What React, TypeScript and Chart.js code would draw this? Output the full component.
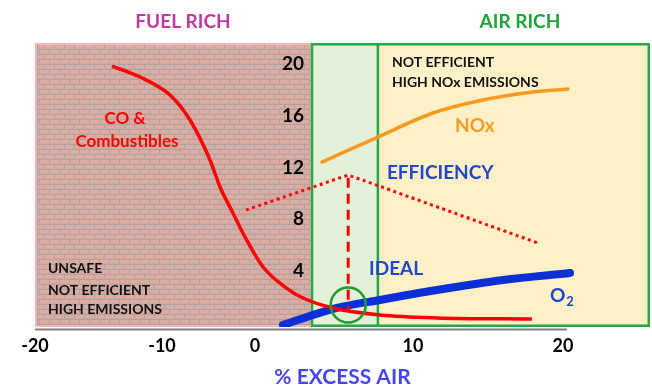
import { useEffect, useRef } from 'react';
import { Chart, registerables, LinearScale } from 'chart.js';

// ---------- data ----------
const X_TICKS = [-20, -10, 0, 10, 20];
const Y_TICKS = [4, 8, 12, 16, 20];

const CO_X = [-13.94, -11.73, -9.14, -6.99, -4.84, -3.76, -2.37, -1.08, 0.51, 1.9, 3.04, 4.94, 7.91, 11.6, 17.93];
const CO_Y = [19.84, 18.99, 17.6, 15.67, 12.58, 10.49, 8.48, 6.63, 4.31, 2.76, 1.91, 1.14, 0.6, 0.37, 0.29];

const NOX_X = [4.24, 7.78, 11.33, 14.67, 18.0, 20.33];
const NOX_Y = [12.42, 14.35, 16.21, 17.21, 17.83, 18.06];

const O2_X = [1.77, 5.19, 7.91, 11.6, 16.0, 20.47];
const O2_Y = [-0.17, 1.14, 1.76, 2.53, 3.3, 3.84];

const EFF_X = [-0.97, 5.9, 18.33];
const EFF_Y = [8.71, 11.42, 6.16];

const IDEAL_X = 5.9;
const IDEAL_LINE_Y = [11.2, 1.0];
const IDEAL_POINT_Y = 1.37;

// zone limits on the % excess air axis: fuel rich | ideal band | air rich
const ZONE_BOUNDS = [-20, 3.61, 7.78, 25.8];

// ---------- axis configuration ----------
const X_MIN = -20;
const X_MAX = 25.8;
const Y_MIN = -0.33;
const Y_MAX = 21.62;
const Y_AXIS_AT = 3.1;
// the reference axis is not evenly spaced: value -> fraction of axis length
const WARP_VALUES = [-20, -10, 0, 10, 20, 25.8];
const WARP_DECIMALS = [0, 0.2065, 0.3577, 0.6146, 0.8585, 1];

const FONT = 'Lato, "Open Sans", sans-serif';

type Note = { text: string; x: number; y: number; color: string; size: number; align: CanvasTextAlign; sub?: string };
const NOTES: Note[] = [
  { text: 'FUEL RICH', x: -7.74, y: 23.24, color: '#c0399c', size: 19, align: 'center' },
  { text: 'AIR RICH', x: 17.13, y: 23.24, color: '#1ea53a', size: 19, align: 'center' },
  { text: 'CO &', x: -12.91, y: 15.82, color: '#ff0000', size: 17, align: 'center' },
  { text: 'Combustibles', x: -12.76, y: 13.97, color: '#ff0000', size: 17, align: 'center' },
  { text: 'UNSAFE', x: -18.98, y: 4.23, color: '#111111', size: 14, align: 'left' },
  { text: 'NOT EFFICIENT', x: -18.98, y: 2.53, color: '#111111', size: 14, align: 'left' },
  { text: 'HIGH EMISSIONS', x: -18.98, y: 0.99, color: '#111111', size: 14, align: 'left' },
  { text: 'NOT EFFICIENT', x: 8.67, y: 20.15, color: '#111111', size: 14, align: 'left' },
  { text: 'HIGH NOx EMISSIONS', x: 8.67, y: 18.53, color: '#111111', size: 14, align: 'left' },
  { text: 'NOx', x: 14.13, y: 15.2, color: '#f79a1e', size: 19, align: 'center' },
  { text: 'EFFICIENCY', x: 8.35, y: 11.57, color: '#2046c9', size: 19, align: 'left' },
  { text: 'IDEAL', x: 7.22, y: 4.15, color: '#2046c9', size: 19, align: 'left' },
  { text: 'O', x: 19.13, y: 2.07, color: '#2046c9', size: 19, align: 'left', sub: '2' },
];

function interp(v: number, xs: number[], ys: number[]) {
  let i = 0;
  if (v >= xs[xs.length - 1]) i = xs.length - 2;
  else if (v > xs[0]) {
    while (v > xs[i + 1]) i++;
  }
  const t = (v - xs[i]) / (xs[i + 1] - xs[i]);
  return ys[i] + t * (ys[i + 1] - ys[i]);
}

class WarpedScale extends LinearScale {
  static id = 'warped';
  getPixelForValue(value: any) {
    if (value === null || value === undefined || isNaN(value)) return NaN;
    return this.getPixelForDecimal(interp(+value, WARP_VALUES, WARP_DECIMALS));
  }
  getValueForPixel(pixel: number) {
    return interp(this.getDecimalForPixel(pixel), WARP_DECIMALS, WARP_VALUES);
  }
}

Chart.register(...registerables, WarpedScale);

const pts = (xs: number[], ys: number[]) => xs.map((x, i) => ({ x, y: ys[i] }));

export default function App() {
  const ref = useRef<HTMLCanvasElement>(null);

  useEffect(() => {
    document.body.style.margin = '0';
    const canvas = ref.current!;
    const tile = document.createElement('canvas');
    tile.width = 10;
    tile.height = 10;
    const t = tile.getContext('2d')!;
    t.fillStyle = '#aba4a4';
    t.fillRect(0, 0, 10, 10);
    t.fillStyle = '#e2ab9f';
    t.fillRect(0, 0, 9, 3);
    t.fillRect(0, 5, 4, 3);
    t.fillRect(5, 5, 5, 3);
    t.fillStyle = '#cda9a4';
    t.fillRect(0, 3, 10, 1);
    t.fillRect(0, 8, 10, 1);
    const pattern = canvas.getContext('2d')!.createPattern(tile, 'repeat')!;

    const zonesPlugin = {
      id: 'zones',
      beforeDraw(chart: any) {
        const { ctx, chartArea } = chart;
        const { top, bottom } = chartArea;
        const xs = chart.scales.x;
        const p = ZONE_BOUNDS.map((v) => xs.getPixelForValue(v));
        const h = bottom - top;
        ctx.save();
        ctx.fillStyle = pattern;
        ctx.fillRect(p[0], top, p[1] - p[0], h);
        ctx.strokeStyle = '#f5b5b5';
        ctx.lineWidth = 2;
        ctx.strokeRect(p[0] + 1, top + 1, p[1] - p[0] - 2, h - 2);
        ctx.strokeStyle = '#a9a4a4';
        ctx.lineWidth = 1;
        ctx.beginPath();
        ctx.moveTo(p[0] + 2.5, top + 2);
        ctx.lineTo(p[0] + 2.5, bottom - 2);
        ctx.stroke();
        ctx.fillStyle = '#e4f1d9';
        ctx.fillRect(p[1], top, p[2] - p[1], h);
        ctx.fillStyle = '#fff0c7';
        ctx.fillRect(p[2], top, p[3] - p[2], h);
        ctx.strokeStyle = '#22a845';
        ctx.lineWidth = 2.5;
        ctx.strokeRect(p[1], top + 1.25, p[3] - p[1] - 1.25, h - 2.5);
        ctx.beginPath();
        ctx.moveTo(p[2], top);
        ctx.lineTo(p[2], bottom);
        ctx.stroke();
        // x axis line from first to last tick
        ctx.strokeStyle = '#808080';
        ctx.lineWidth = 2;
        ctx.beginPath();
        ctx.moveTo(xs.getPixelForValue(X_TICKS[0]), bottom + 2.5);
        ctx.lineTo(xs.getPixelForValue(X_TICKS[X_TICKS.length - 1]) + 4, bottom + 2.5);
        ctx.stroke();
        ctx.restore();
      },
      beforeDatasetsDraw(chart: any) {
        const { ctx } = chart;
        const xs = chart.scales.x;
        const ys = chart.scales.y;
        ctx.save();
        ctx.textBaseline = 'middle';
        NOTES.forEach((n) => {
          const px = xs.getPixelForValue(n.x);
          const py = ys.getPixelForValue(n.y);
          ctx.font = `bold ${n.size}px ${FONT}`;
          ctx.fillStyle = n.color;
          ctx.textAlign = n.align;
          ctx.fillText(n.text, px, py);
          if (n.sub) {
            const w = ctx.measureText(n.text).width;
            ctx.font = `bold ${Math.round(n.size * 0.68)}px ${FONT}`;
            ctx.textAlign = 'left';
            ctx.fillText(n.sub, px + w + 1, py + 6);
          }
        });
        ctx.restore();
      },
    };

    const chart = new Chart(canvas, {
      type: 'line',
      data: {
        datasets: [
          {
            data: [{ x: IDEAL_X, y: IDEAL_POINT_Y }],
            showLine: false,
            pointRadius: 17.5,
            pointHoverRadius: 17.5,
            pointBorderWidth: 2.5,
            pointBorderColor: '#1f9a30',
            pointBackgroundColor: 'rgba(0,0,0,0)',
          },
          {
            data: IDEAL_LINE_Y.map((y) => ({ x: IDEAL_X, y })),
            borderColor: '#ff0000',
            borderWidth: 3,
            borderDash: [10, 6],
            pointRadius: 0,
          },
          {
            data: pts(CO_X, CO_Y),
            borderColor: '#ff0000',
            borderWidth: 3.5,
            cubicInterpolationMode: 'monotone',
            pointRadius: 0,
          },
          {
            data: pts(O2_X, O2_Y),
            borderColor: '#0b2fd6',
            borderWidth: 8,
            borderCapStyle: 'round',
            cubicInterpolationMode: 'monotone',
            pointRadius: 0,
          },
          {
            data: pts(NOX_X, NOX_Y),
            borderColor: '#f79a1e',
            borderWidth: 3.5,
            borderCapStyle: 'round',
            cubicInterpolationMode: 'monotone',
            pointRadius: 0,
          },
          {
            data: pts(EFF_X, EFF_Y),
            borderColor: '#ff0000',
            borderWidth: 3,
            borderDash: [3, 3.5],
            tension: 0,
            pointRadius: 0,
          },
        ],
      },
      options: {
        animation: false,
        responsive: false,
        devicePixelRatio: 1,
        layout: { autoPadding: false, padding: { left: 35, right: 2, top: 43, bottom: 0 } },
        plugins: { legend: { display: false }, tooltip: { enabled: false }, title: { display: false } },
        scales: {
          x: {
            type: 'warped' as any,
            min: X_MIN,
            max: X_MAX,
            grid: { display: false, drawTicks: false },
            border: { display: false },
            afterFit: (s: any) => {
              s.paddingLeft = 0;
              s.paddingRight = 0;
            },
            afterBuildTicks: (s: any) => {
              s.ticks = X_TICKS.map((v) => ({ value: v }));
            },
            ticks: {
              color: '#000',
              padding: 8,
              autoSkip: false,
              maxRotation: 0,
              font: { family: FONT, size: 18, weight: 'bold', lineHeight: 1.2 },
            },
            title: {
              display: true,
              text: '% EXCESS AIR',
              color: '#4646f0',
              font: { family: FONT, size: 21, weight: 'bold', lineHeight: 1 },
              padding: { top: 2.4, bottom: 0 },
            },
          },
          y: {
            type: 'linear',
            position: { x: Y_AXIS_AT } as any,
            min: Y_MIN,
            max: Y_MAX,
            grid: { display: false, drawTicks: false },
            border: { display: false },
            afterFit: (s: any) => {
              s.width = 0;
              s.paddingTop = 0;
              s.paddingBottom = 0;
            },
            afterBuildTicks: (s: any) => {
              s.ticks = Y_TICKS.map((v) => ({ value: v }));
            },
            ticks: {
              color: '#000',
              padding: 0,
              font: { family: FONT, size: 19, weight: 'bold' },
            },
          },
        },
      },
      plugins: [zonesPlugin],
    } as any);

    return () => chart.destroy();
  }, []);

  return (
    <div style={{ width: 652, height: 388 }}>
      <canvas ref={ref} width={652} height={388} style={{ display: 'block' }} />
    </div>
  );
}
